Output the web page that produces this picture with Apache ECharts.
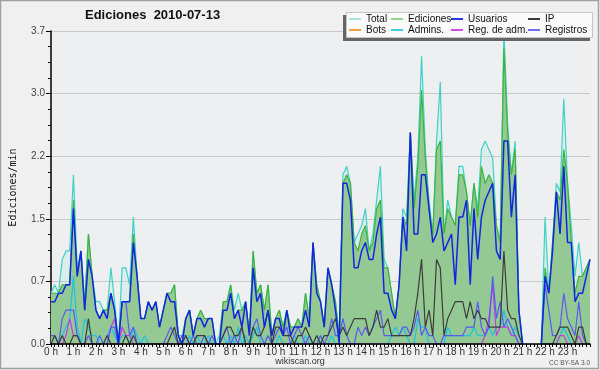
<!DOCTYPE html>
<html><head><meta charset="utf-8">
<script src="https://cdn.jsdelivr.net/npm/echarts@6/dist/echarts.min.js"></script>
<style>html,body{margin:0;padding:0;background:#f0f0f0}#c{width:600px;height:370px}</style>
</head><body><div id="c"></div>
<script>
// 10-minute slots, index 0..144 (0:00 .. 24:00)
const STEP_MIN = 10;
const hourLabels = ['0 h','1 h','2 h','3 h','4 h','5 h','6 h','7 h','8 h','9 h','10 h','11 h','12 h','13 h','14 h','15 h','16 h','17 h','18 h','19 h','20 h','21 h','22 h','23 h'];
const yTicks = [0, 0.74, 1.48, 2.22, 2.96, 3.7];

const total = [
0.6,0.7,0.6,1.0,1.1,1.1,2.0,0.9,1.1,0.5,1.3,0.8,
0.5,0.5,0.4,0.4,0.9,0.5,0,0.9,0.9,0.7,1.5,0.8,
0.3,0.3,0.5,0.4,0.5,0.2,0.4,0.6,0.6,0.7,0.1,0.1,
0.3,0.4,0.1,0.3,0.4,0.3,0.3,0.3,0,0.1,0.5,0.5,
0.7,0.4,0.6,0.4,0.5,0.1,1.1,0.6,0.7,0.4,0.7,0.1,
0.3,0.4,0.2,0.4,0.2,0.2,0.3,0.2,0.6,0.3,1.2,0.7,
0.5,0.2,0.9,0.7,0.5,0.1,2.0,2.1,1.9,1.2,1.3,1.4,
1.6,1.1,1.3,1.7,2.1,1.0,0.9,0.6,0.3,0.7,1.6,1.5,
2.5,1.7,2.2,3.4,2.3,1.7,1.3,2.4,3.1,1.3,1.7,1.5,
1.4,2.1,2.1,1.8,1.4,1.9,1.6,2.3,2.4,2.3,2.2,1.4,
1.2,3.7,2.6,2.0,2.4,0.4,0,null,null,null,null,0,
1.5,0.6,1.2,1.9,1.8,2.9,1.9,1.4,0.8,1.2,0.8,0.9,1.0];

const ediciones = [
0.6,0.6,0.6,0.7,0.7,0.7,1.7,0.8,1.1,0.4,1.3,0.8,
0.4,0.3,0.4,0.4,0.6,0.4,0,0.5,0.5,0.5,1.3,0.8,
0.3,0.3,0.5,0.4,0.5,0.2,0.4,0.6,0.6,0.7,0.1,0,
0.3,0.4,0.1,0.3,0.4,0.3,0.3,0.3,0,0,0.5,0.5,
0.7,0.3,0.4,0.4,0.5,0.1,1.1,0.6,0.7,0.4,0.7,0.1,
0.3,0.4,0.2,0.4,0.2,0.2,0.3,0.2,0.6,0.3,1.2,0.7,
0.5,0.2,0.9,0.7,0.5,0.1,1.9,2.0,1.9,1.2,1.1,1.3,
1.4,1.1,1.2,1.6,1.7,0.9,0.9,0.6,0.3,0.7,1.5,1.4,
2.5,1.6,2.1,3.0,2.2,1.6,1.3,2.3,2.4,1.3,1.6,1.5,
1.4,2.0,2.0,1.8,1.4,1.9,1.5,2.1,1.9,2.0,1.9,1.4,
1.2,3.5,2.5,2.0,2.3,0.4,0,null,null,null,null,0,
0.9,0.6,1.2,1.8,1.7,2.3,1.9,1.2,0.6,0.8,0.8,0.9,1.0];

const usuarios = [
0.5,0.5,0.6,0.6,0.7,0.7,1.6,0.8,1.1,0.4,1.0,0.8,
0.4,0.3,0.4,0.3,0.6,0.4,0,0.5,0.5,0.5,1.2,0.8,
0.3,0.3,0.5,0.4,0.5,0.2,0.4,0.6,0.5,0.5,0.1,0,
0.3,0.4,0.1,0.3,0.3,0.2,0.3,0.3,0,0,0.4,0.4,
0.6,0.3,0.4,0.2,0.5,0.1,0.9,0.5,0.6,0.2,0.4,0.1,
0.3,0.3,0.1,0.4,0.1,0.2,0.2,0.2,0.4,0.2,1.2,0.6,
0.5,0.2,0.9,0.7,0.4,0,1.9,1.9,1.7,0.9,0.9,1.1,
1.2,1.0,1.0,1.3,1.5,0.6,0.6,0.4,0.3,0.7,1.5,1.1,
2.5,1.3,1.3,2.0,2.0,1.6,1.2,1.3,1.5,1.1,1.2,1.3,
0.7,1.5,1.5,1.7,0.7,1.6,1.0,1.5,1.7,1.8,1.9,1.1,
1.0,2.4,2.4,1.5,2.0,0.4,0,null,null,null,null,0,
0.8,0.6,1.1,1.8,1.3,2.1,1.2,1.2,0.5,0.6,0.6,0.8,1.0];

const ip = [
0,0.1,0,0.1,0,0,0.1,0.1,0,0,0.3,0,
0,0,0,0.1,0,0,0,0,0.1,0,0.1,0,
0,0,0,0,0,0,0,0,0.1,0.2,0,0,
0.1,0,0,0.1,0.1,0.1,0,0,0,0,0.1,0.2,
0.2,0.1,0.1,0.2,0,0,0.2,0.1,0.1,0.2,0.4,0,
0.2,0.2,0.1,0.1,0.1,0,0.1,0.1,0.2,0.1,0,0.1,
0,0.1,0.1,0.2,0.3,0.1,0.2,0.1,0.2,0.3,0.3,0.3,
0.3,0.1,0.2,0.4,0.2,0.2,0.3,0.1,0.1,0.1,0.1,0.1,
0.1,0.3,0.6,1.0,0.2,0.4,0.1,1.0,0.9,0.1,0.3,0.4,
0.5,0.5,0.5,0.3,0.5,0.3,0.4,0.3,0.3,0.2,0.2,0.2,
0.2,1.1,0.4,0.3,0.3,0.1,0,null,null,null,null,0,
0,0,0,0.1,0.2,0.2,0.2,0.1,0,0.2,0.2,0,0];

const bots = [
0,0,0,0,0,0,0,0,0,0,0,0,
0,0,0,0,0,0,0,0,0,0,0,0,
0,0,0,0,0,0,0,0,0,0,0,0,
0,0,0,0,0,0,0,0,0,0,0,0,
0,0,0,0,0,0,0,0,0,0,0,0,
0,0,0,0,0,0,0,0,0,0,0,0,
0,0,0,0,0,0,0,0,0,0,0,0,
0,0,0,0,0,0,0,0,0,0,0,0,
0,0,0,0,0,0,0,0,0,0,0,0,
0,0,0,0,0,0,0,0,0,0,0,0,
0,0,0,0,0,0,0,null,null,null,null,0,
0,0,0,0,0,0,0,0,0,0,0,0,0];

const admins = [
0,0,0,0.1,0.2,0.3,0.8,0.2,0,0.3,0.2,0.1,
0.1,0,0,0.1,0.2,0.1,0,0.1,0.1,0,0.2,0.1,
0,0.1,0,0,0,0,0,0,0,0,0,0,
0,0.1,0,0.1,0,0,0.1,0,0,0,0.1,0,
0.1,0,0.2,0,0.1,0,0.1,0.2,0,0,0.1,0,
0,0.1,0,0,0,0.1,0,0,0.1,0,0,0,
0.1,0,0,0.1,0,0,0,0,0,0,0,0,
0,0,0,0,0,0,0,0.1,0.2,0.1,0.2,0.1,
0,0,0.3,0.2,0.2,0,0,0,0,0,0.2,0.1,
0.1,0.1,0.1,0.1,0.1,0.2,0.1,0.1,0.1,0.2,0.1,0.2,
0.2,0.4,0.2,0.1,0.2,0.1,0,null,null,null,null,0,
0,0,0,0,0.1,0.2,0.1,0,0,0,0,0,0];

const regAdm = [
0,0,0,0,0.1,0.3,0.1,0.1,0,0,0,0,
0,0,0,0,0.2,0.3,0,0.2,0.1,0.1,0,0,
0,0,0,0,0,0,0,0,0,0,0,0,
0,0,0,0,0,0,0,0,0,0,0,0,
0,0,0,0,0,0,0,0,0,0,0,0,
0,0,0,0,0,0,0,0,0,0,0,0,
0,0,0,0,0,0,0,0,0,0,0,0,
0,0,0,0,0,0,0,0,0,0,0,0,
0,0,0,0,0,0,0,0,0,0,0,0,
0,0,0,0,0,0,0,0,0.1,0.3,0.7,0.1,
0.2,0.2,0.2,0.1,0.1,0,0,null,null,null,null,0,
0,0,0,0,0.1,0.1,0,0,0,0.1,0,0,0];

const registros = [
0.1,0.1,0,0.3,0.4,0.4,0.4,0.1,0,0,0.1,0,
0,0.1,0,0,0.2,0.2,0,0.5,0.5,0.1,0.2,0,
0,0,0,0,0,0,0,0.1,0.2,0.1,0,0.1,
0.1,0,0.1,0,0,0.1,0,0.1,0,0,0.1,0.2,
0,0.1,0,0.2,0,0,0.2,0.3,0.1,0,0.1,0,
0.1,0.2,0.1,0.2,0,0.1,0.2,0.1,0,0.1,0,0,
0.1,0,0.1,0.3,0.1,0.1,0.3,0.1,0,0,0.2,0.1,
0.2,0.1,0.2,0.3,0.4,0.1,0.1,0.1,0.1,0.1,0.2,0.2,
0.1,0.2,0.4,0.1,0.2,0.1,0.1,0,0,0.1,0.1,0.1,
0.1,0.1,0.1,0.2,0.2,0.2,0.5,0.2,0.1,0.2,0.8,0.3,
0.5,0.2,0.3,0.2,0.1,0,0,null,null,null,null,0,
0.7,0.4,0.1,0.1,0.2,0.6,0.3,0.2,0.1,0.5,0.1,0,0];

const FONT = '"Liberation Sans", Arial, sans-serif';
function pts(a){ return a.map((v,i)=>[i*STEP_MIN, v]); }
const base = {type:'line', symbol:'none', showSymbol:false, connectNulls:false, animation:false};

const chart = echarts.init(document.getElementById('c'));
chart.setOption({
  animation:false,
  backgroundColor:'#f0f0f0',
  title:{text:'Ediciones  2010-07-13', left:85, top:9, padding:0,
    textStyle:{fontFamily:FONT, fontSize:13, fontWeight:'bold', color:'#111'}},
  grid:{left:46, right:10, top:31, bottom:26, show:true, backgroundColor:'#eeeff1', borderWidth:0},
  xAxis:{type:'value', min:0, max:1440, interval:60, z:10,
    axisLine:{lineStyle:{color:'#000', width:1.5}},
    axisTick:{length:3, lineStyle:{color:'#000'}},
    minorTick:{show:true, splitNumber:6, length:3, lineStyle:{color:'#000'}},
    splitLine:{show:false},
    axisLabel:{margin:3, fontFamily:FONT, fontSize:10, color:'#333',
      formatter: v => hourLabels[Math.round(v/60)] || ''}},
  yAxis:{type:'value', min:yTicks[0], max:yTicks[yTicks.length-1], interval:yTicks[1],
    name:'Ediciones/min', nameLocation:'middle', nameGap:33, nameRotate:90,
    nameTextStyle:{fontFamily:'"DejaVu Sans Mono", monospace', fontSize:10, color:'#111'},
    axisLine:{show:true, lineStyle:{color:'#000', width:1.5}},
    axisTick:{show:true, length:5, lineStyle:{color:'#000'}},
    minorTick:{show:true, splitNumber:4, length:3, lineStyle:{color:'#000'}},
    splitLine:{show:true, lineStyle:{color:'#c8c8c8'}},
    axisLabel:{margin:6, fontFamily:FONT, fontSize:10, color:'#444', formatter: v => v.toFixed(1)}},
  legend:[
    {data:['Total','Bots'], left:349, top:14},
    {data:['Ediciones','Admins.'], left:391, top:14},
    {data:['Usuarios','Reg. de adm.'], left:451, top:14},
    {data:['IP','Registros'], left:528, top:14}
  ].map(l => Object.assign(l, {orient:'vertical', padding:0, itemGap:1, itemWidth:12, itemHeight:2,
      icon:'rect', z:20, selectedMode:false,
      textStyle:{fontFamily:FONT, fontSize:10, color:'#111', lineHeight:10}})),
  graphic:[
    {type:'rect', z:100, silent:true, shape:{x:0.5, y:0.5, width:598, height:368},
      style:{fill:null, stroke:'#a0a0a0', lineWidth:1.5}},
    {type:'rect', z:15, shape:{x:343, y:15, width:247, height:26}, style:{fill:'#666666'}},
    {type:'rect', z:16, shape:{x:346.5, y:12.5, width:246, height:25}, style:{fill:'#fafafa', stroke:'#c4c4c4', lineWidth:1}},
    {type:'text', z:20, x:300, y:362, style:{text:'wikiscan.org', font:'9px "Liberation Sans", Arial', fill:'#333',
      align:'center', verticalAlign:'middle', textAlign:'center', textVerticalAlign:'middle'}},
    {type:'text', z:20, x:590, y:363, style:{text:'CC BY-SA 3.0', font:'6.5px "Liberation Sans", Arial', fill:'#555',
      align:'right', verticalAlign:'middle', textAlign:'right', textVerticalAlign:'middle'}}
  ],
  series:[
    Object.assign({}, base, {name:'Total', data:pts(total), z:2,
      lineStyle:{color:'#3fd2c6', width:1.2}, itemStyle:{color:'#a6e6de'},
      areaStyle:{color:'rgba(175,232,224,0.4)'}}),
    Object.assign({}, base, {name:'Ediciones', data:pts(ediciones), z:3,
      lineStyle:{color:'#3cb43c', width:1.2}, itemStyle:{color:'#8fd68f'},
      areaStyle:{color:'#94c994', opacity:1}}),
    Object.assign({}, base, {name:'Bots', data:pts(bots), z:4,
      lineStyle:{color:'#f5a040', width:1}, itemStyle:{color:'#f5a040'}}),
    Object.assign({}, base, {name:'Admins.', data:pts(admins), z:4,
      lineStyle:{color:'#1cc3e3', width:1.2}, itemStyle:{color:'#40d0e4'}}),
    Object.assign({}, base, {name:'Reg. de adm.', data:pts(regAdm), z:4,
      lineStyle:{color:'#c43ce0', width:1.2}, itemStyle:{color:'#d050e4'}}),
    Object.assign({}, base, {name:'Registros', data:pts(registros), z:4,
      lineStyle:{color:'#5a5af2', width:1.2}, itemStyle:{color:'#7070ee'}}),
    Object.assign({}, base, {name:'IP', data:pts(ip), z:4,
      lineStyle:{color:'#3c3c3c', width:1.2}, itemStyle:{color:'#3c3c3c'}}),
    Object.assign({}, base, {name:'Usuarios', data:pts(usuarios), z:5,
      lineStyle:{color:'#1226e0', width:1.5}, itemStyle:{color:'#2a3ae0'}})
  ]
});
</script>
</body></html>
